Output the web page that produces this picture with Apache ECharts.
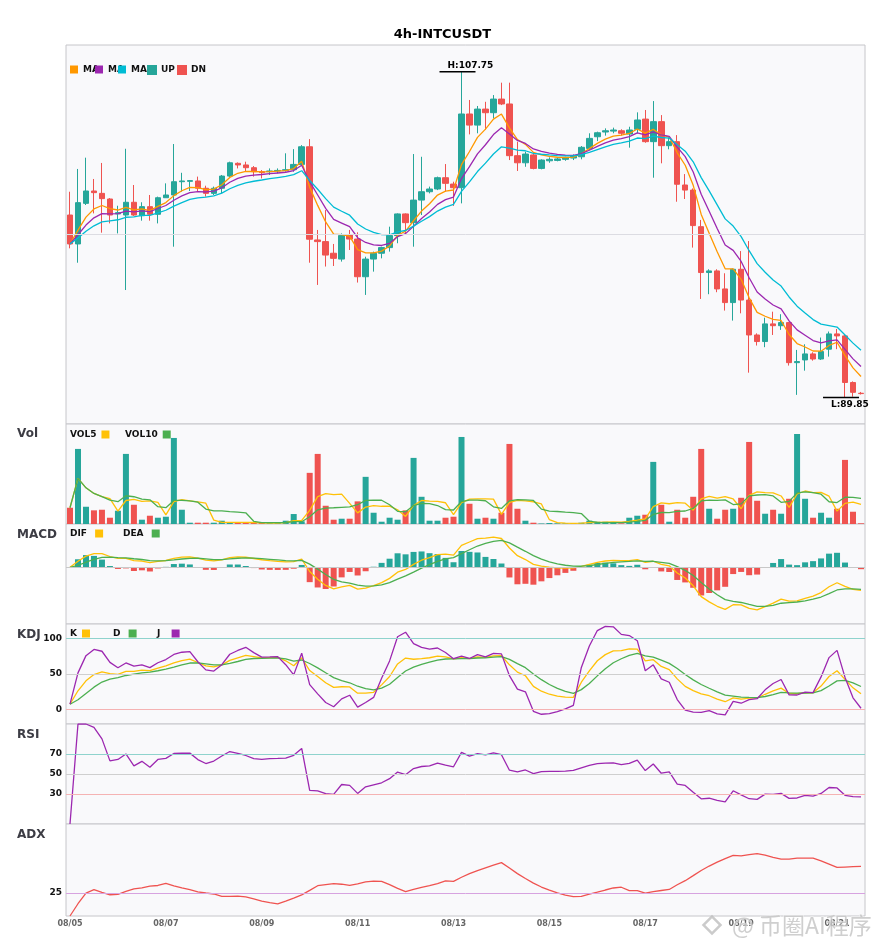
<!DOCTYPE html>
<html>
<head>
<meta charset="utf-8">
<script src="https://cdn.jsdelivr.net/npm/echarts@6/dist/echarts.min.js"></script>
<style>
  html, body { margin: 0; padding: 0; background: #fff; }
  #main { width: 885px; height: 950px; }
</style>
</head>
<body>
<div id="main"></div>
<script>
// ---- data (4h candles, 08/05 00:00 .. 08/21 12:00) ----
var days = ['08/05','08/06','08/07','08/08','08/09','08/10','08/11','08/12','08/13',
            '08/14','08/15','08/16','08/17','08/18','08/19','08/20','08/21'];
var hours = ['00:00','04:00','08:00','12:00','16:00','20:00'];

var opens = [
  99.88,98.29,100.52,101.20,101.07,100.76,99.94,99.88,100.58,99.84,
  100.34,99.92,100.83,100.98,101.71,101.73,101.75,101.35,101.07,101.35,
  102.02,102.72,102.63,102.48,102.26,102.26,102.30,102.33,102.37,102.66,
  103.63,98.51,98.42,97.78,97.46,98.78,98.56,96.49,97.46,97.78,
  98.09,98.75,99.94,99.46,100.70,101.16,101.31,101.93,101.58,101.38,
  105.43,104.82,105.70,105.50,106.25,105.98,103.14,102.75,103.18,102.44,
  102.86,102.88,102.94,103.01,103.08,103.54,104.18,104.44,104.49,104.51,
  104.33,104.59,105.15,103.91,105.01,103.69,103.91,101.53,101.25,99.24,
  96.72,96.81,95.82,95.07,96.90,95.21,93.29,92.93,93.90,93.80,
  93.97,91.77,91.92,92.25,91.97,92.51,93.35,93.24,90.68,90.09
];
var closes = [
  98.29,100.56,101.20,101.11,100.78,99.88,100.01,100.58,99.88,100.34,
  99.92,100.83,100.98,101.71,101.75,101.77,101.35,101.07,101.35,102.02,
  102.75,102.63,102.48,102.26,102.21,102.30,102.33,102.37,102.66,103.63,
  98.55,98.42,97.68,97.50,98.75,98.56,96.49,97.46,97.78,98.09,
  98.75,99.94,99.46,100.70,101.16,101.31,101.93,101.62,101.38,105.43,
  104.82,105.70,105.50,106.25,105.98,103.14,102.75,103.23,102.44,102.90,
  102.94,102.96,103.01,103.12,103.60,104.09,104.40,104.51,104.55,104.37,
  104.55,105.10,103.91,105.01,103.69,103.91,101.57,101.25,99.30,96.72,
  96.81,95.82,95.07,96.90,95.21,93.29,92.93,93.90,93.80,93.97,
  91.77,91.83,92.25,91.97,92.38,93.35,93.24,90.68,90.14,90.07
];
var lows = [
  98.05,97.26,100.43,99.97,98.91,99.42,98.87,95.76,99.83,99.57,
  99.57,99.42,100.83,98.14,101.16,101.20,101.16,100.89,100.98,101.07,
  101.95,102.44,102.26,101.99,101.89,102.08,102.17,102.26,102.26,102.63,
  97.26,96.04,97.05,97.08,97.32,97.96,96.17,95.49,96.77,97.50,
  97.87,98.33,98.87,98.14,99.88,101.07,101.25,101.16,100.38,100.52,
  104.31,104.37,104.55,105.19,105.92,102.90,102.30,102.53,102.39,102.39,
  102.75,102.83,102.86,102.90,102.94,103.45,103.94,104.24,104.37,104.24,
  103.58,104.37,103.85,101.93,102.72,103.49,100.61,100.76,98.09,95.27,
  95.53,95.64,94.63,94.08,94.48,91.22,92.71,92.62,93.29,93.57,
  91.61,90.00,91.33,91.88,91.92,92.10,92.51,89.85,89.90,90.02
];
var highs = [
  101.16,102.41,103.03,101.86,102.74,100.81,100.39,103.52,101.53,100.58,
  100.98,100.89,101.62,103.78,102.20,101.80,101.99,101.49,101.44,102.08,
  102.81,102.77,102.81,102.57,102.35,102.44,102.44,103.27,103.50,103.72,
  104.05,99.06,100.15,98.29,98.87,99.06,98.93,97.59,97.87,98.14,
  99.24,99.97,99.97,103.23,103.08,101.44,101.99,102.68,101.71,107.75,
  106.20,105.87,106.10,106.47,107.15,107.15,103.91,103.36,103.27,102.94,
  103.05,103.03,103.08,103.21,103.67,104.37,104.46,104.64,104.68,104.59,
  104.73,105.52,105.65,106.14,105.37,104.15,104.27,102.13,101.34,99.61,
  96.90,96.90,96.68,96.94,97.90,98.45,93.38,94.24,94.57,94.43,
  94.01,92.47,92.78,92.34,93.15,93.48,93.62,93.33,90.74,90.16
];
var volumes = [
  16300,75300,17300,13700,14300,6300,13300,70300,19300,4300,
  8300,6300,7300,86300,14300,1300,1300,1300,1300,3300,
  1300,1000,1000,1000,1000,1000,1000,3300,10000,2700,
  51300,70300,18300,4300,5300,5300,22700,47300,11300,2300,
  6300,4300,13700,66300,27300,3300,3300,6300,7300,87300,
  20300,5300,6300,5300,11300,80300,15300,3300,1300,500,
  1000,700,700,700,1300,3300,2300,2300,1300,700,
  6300,8300,9300,62300,19300,2300,14300,6300,27300,75300,
  15300,5300,14300,15300,26300,82300,23300,10300,14300,10300,
  25300,90300,25300,6300,11300,6300,15300,64300,12300,700
];

// ---- categories ----
var cats = [];
days.forEach(function (d) { hours.forEach(function (h) { cats.push(d + ' ' + h); }); });
cats = cats.slice(0, closes.length);
var N = closes.length;

// ---- indicators from the candles ----
function ema(arr, n) {
  var a = 2 / (n + 1), out = [], p = 0;
  for (var i = 0; i < arr.length; i++) { p = i === 0 ? arr[i] : p + a * (arr[i] - p); out.push(p); }
  return out;
}
function sma(arr, n) {
  var out = [];
  for (var i = 0; i < arr.length; i++) {
    var s = 0, c = 0;
    for (var k = Math.max(0, i - n + 1); k <= i; k++) { s += arr[k]; c++; }
    out.push(s / c);
  }
  return out;
}
var ma5 = ema(closes, 5), ma8 = ema(closes, 8), ma13 = ema(closes, 13);
var vol5 = sma(volumes, 5), vol10 = sma(volumes, 10);

// MACD 6/13/5
var eFast = ema(closes, 6), eSlow = ema(closes, 13);
var dif = closes.map(function (v, i) { return eFast[i] - eSlow[i]; });
var dea = ema(dif, 5);
var hist = dif.map(function (v, i) { return 2 * (v - dea[i]); });

// KDJ 9/3/3
var kArr = [], dArr = [], jArr = [], kv = 0, dv = 0;
for (var i = 0; i < N; i++) {
  var lo = Infinity, hi = -Infinity;
  for (var k = Math.max(0, i - 8); k <= i; k++) { lo = Math.min(lo, lows[k]); hi = Math.max(hi, highs[k]); }
  var rsv = hi === lo ? 50 : (closes[i] - lo) / (hi - lo) * 100;
  kv = i === 0 ? rsv : kv * 2 / 3 + rsv / 3;
  dv = i === 0 ? kv : dv * 2 / 3 + kv / 3;
  kArr.push(kv); dArr.push(dv); jArr.push(3 * kv - 2 * dv);
}

// RSI 14
var rsi = [0], wu = 0, wd = 0, ra = 1 / 14;
for (var i = 1; i < N; i++) {
  var ch = closes[i] - closes[i - 1];
  wu = wu * (1 - ra) + Math.max(ch, 0);
  wd = wd * (1 - ra) + Math.max(-ch, 0);
  rsi.push(wu + wd === 0 ? 50 : 100 * wu / (wu + wd));
}

// ADX 14
var adx = [0], ps = 0, ms = 0, av = 0, aa = 2 / 15;
for (var i = 1; i < N; i++) {
  var up = highs[i] - highs[i - 1], dn = lows[i - 1] - lows[i];
  var pdm = (up > dn && up > 0) ? up : 0, mdm = (dn > up && dn > 0) ? dn : 0;
  ps += aa * (pdm - ps); ms += aa * (mdm - ms);
  var dx = ps + ms === 0 ? 0 : Math.abs(ps - ms) / (ps + ms) * 100;
  av += aa * (dx - av);
  adx.push(av);
}

// ---- styling ----
var FONT = 'DejaVu Sans';
var UPC = '#26A69A', DNC = '#EF5350';
var upData = [], dnData = [];
for (var i = 0; i < N; i++) {
  var item = [opens[i], closes[i], lows[i], highs[i]];
  var blank = ['-', '-', '-', '-'];
  if (closes[i] >= opens[i]) { upData.push(item); dnData.push(blank); }
  else { upData.push(blank); dnData.push(item); }
}
var volBars = volumes.map(function (v, i) {
  return { value: v, itemStyle: { color: closes[i] >= opens[i] ? UPC : DNC } };
});
var histBars = hist.map(function (v) {
  return { value: v, itemStyle: { color: v >= 0 ? UPC : DNC } };
});
var macdLo = Math.min(Math.min.apply(null, dif), Math.min.apply(null, dea), Math.min.apply(null, hist));
var macdMin = macdLo * 1.33, macdMax = -macdMin * 43.3 / 56.7;
var priceMin = 88.40, priceMax = 109.22;

var tops = [45, 424, 524, 624, 724, 824];
var heights = [379, 100, 100, 100, 100, 92];
var grids = tops.map(function (t, i) {
  return { left: 66, right: 20, top: t, height: heights[i], show: true,
           backgroundColor: '#f9f9fb', borderColor: '#c6c6ca', borderWidth: 1 };
});
var xAxes = tops.map(function (t, i) {
  var last = i === tops.length - 1;
  return {
    type: 'category', gridIndex: i, data: cats, boundaryGap: true,
    axisLine: { show: false }, axisTick: { show: false }, splitLine: { show: false },
    axisLabel: { show: last, interval: 11, margin: 4, color: '#666', fontSize: 8, fontWeight: 'bold',
                 fontFamily: FONT, formatter: function (v) { return v.slice(0, 5); } }
  };
});
function yAx(gi, min, max, interval, shown) {
  var o = { type: 'value', gridIndex: gi, min: min, max: max, scale: true,
    axisLine: { show: false }, axisTick: { show: false }, splitLine: { show: false },
    axisLabel: { show: !!shown, margin: 4, color: '#111', fontSize: 9, fontWeight: 'bold', fontFamily: FONT,
      formatter: function (v) { return shown && shown.indexOf(Math.round(v)) >= 0 && Math.abs(v - Math.round(v)) < 1e-6 ? String(Math.round(v)) : ''; } } };
  if (interval) o.interval = interval;
  return o;
}
var yAxes = [
  yAx(0, priceMin, priceMax),
  yAx(1, 0, 100300),
  yAx(2, macdMin, macdMax),
  yAx(3, -20, 120, 10, [0, 50, 100]),
  yAx(4, 0, 100, 10, [30, 50, 70]),
  yAx(5, 0, 100, 5, [25])
];
function refLines(list) {
  return { silent: true, symbol: 'none', label: { show: false }, animation: false,
    data: list.map(function (p) { return { yAxis: p[0], lineStyle: { color: p[1], type: 'solid', width: 1 } }; }) };
}
function line(name, data, color, gi, extra) {
  var s = { name: name, type: 'line', data: data, xAxisIndex: gi, yAxisIndex: gi, showSymbol: false,
    symbol: 'none', lineStyle: { width: 1.3, color: color }, itemStyle: { color: color }, z: 3 };
  for (var k in extra) s[k] = extra[k];
  return s;
}
function lg(name, left, top, align, text) {
  return { data: [name], left: left, top: top, align: align, icon: 'rect', itemWidth: 8, itemHeight: 8,
    itemGap: 0, padding: 0, selectedMode: false, formatter: text,
    textStyle: { fontSize: 9, fontWeight: 'bold', color: '#111', fontFamily: FONT } };
}
function ttl(text, top) {
  return { text: text, left: 17, top: top, padding: 0,
           textStyle: { fontSize: 12, fontWeight: 'bold', color: '#3c3c44', fontFamily: FONT } };
}

var option = {
  animation: false,
  backgroundColor: '#ffffff',
  textStyle: { fontFamily: FONT },
  title: [
    { text: '4h-INTCUSDT', left: 'center', top: 28, padding: 0,
      textStyle: { fontSize: 13, fontWeight: 'bold', color: '#000', fontFamily: FONT } },
    ttl('Vol', 428), ttl('MACD', 529), ttl('KDJ', 629), ttl('RSI', 729), ttl('ADX', 829)
  ],
  legend: [
    lg('MA5', 70, 65, 'left', 'MA'), lg('MA8', 95, 65, 'left', 'MA'), lg('MA13', 118, 65, 'left', 'MA'),
    lg('UP', 147, 65, 'left', 'UP'), lg('DN', 177, 65, 'left', 'DN'),
    lg('VOL5', 70, 430, 'right', 'VOL5'), lg('VOL10', 125, 430, 'right', 'VOL10'),
    lg('DIF', 70, 529, 'right', 'DIF '), lg('DEA', 123, 529, 'right', 'DEA '),
    lg('K', 70, 629, 'right', 'K'), lg('D', 113, 629, 'right', 'D '), lg('J', 157, 629, 'right', 'J  ')
  ],
  grid: grids,
  xAxis: xAxes,
  yAxis: yAxes,
  series: [
    { name: 'UP', type: 'candlestick', data: upData, xAxisIndex: 0, yAxisIndex: 0, barWidth: 6,
      itemStyle: { color: UPC, color0: UPC, borderColor: UPC, borderColor0: UPC, borderWidth: 1 },
      markLine: refLines([[(priceMin + priceMax) / 2, '#dcdce2']]) },
    { name: 'DN', type: 'candlestick', data: dnData, xAxisIndex: 0, yAxisIndex: 0, barWidth: 6,
      itemStyle: { color: DNC, color0: DNC, borderColor: DNC, borderColor0: DNC, borderWidth: 1 } },
    line('MA5', ma5, '#FF9800', 0),
    line('MA8', ma8, '#9C27B0', 0),
    line('MA13', ma13, '#00BCD4', 0),

    { name: 'Vol', type: 'bar', data: volBars, xAxisIndex: 1, yAxisIndex: 1, barWidth: 6 },
    line('VOL5', vol5, '#FFC107', 1),
    line('VOL10', vol10, '#4CAF50', 1),

    { name: 'MACD', type: 'bar', data: histBars, xAxisIndex: 2, yAxisIndex: 2, barWidth: 6,
      markLine: refLines([[0, '#c8c8c8']]) },
    line('DIF', dif, '#FFC107', 2),
    line('DEA', dea, '#4CAF50', 2),

    line('K', kArr, '#FFC107', 3, { markLine: refLines([[100, '#8fd3cd'], [50, '#cfcfcf'], [0, '#f5b3b3']]) }),
    line('D', dArr, '#4CAF50', 3),
    line('J', jArr, '#9C27B0', 3),

    line('RSI', rsi, '#9C27B0', 4, { markLine: refLines([[70, '#8fd3cd'], [50, '#cfcfcf'], [30, '#f5b3b3']]) }),

    line('ADX', adx, '#EF5350', 5, { markLine: refLines([[25, '#d7a3e0']]) })
  ]
};

var chart = echarts.init(document.getElementById('main'));
chart.setOption(option);

// high / low annotations placed through the price scale
var hiIdx = highs.indexOf(Math.max.apply(null, highs));
var loIdx = lows.indexOf(Math.min.apply(null, lows));
var hp = chart.convertToPixel({ xAxisIndex: 0, yAxisIndex: 0 }, [hiIdx, highs[hiIdx]]);
var lp = chart.convertToPixel({ xAxisIndex: 0, yAxisIndex: 0 }, [loIdx, lows[loIdx]]);
chart.setOption({
  graphic: [
    { id: 'hline', type: 'line', z: 10, shape: { x1: hp[0] - 22, y1: hp[1], x2: hp[0] + 14, y2: hp[1] },
      style: { stroke: '#000', lineWidth: 1.5 } },
    { id: 'htext', type: 'text', z: 10, x: hp[0] - 14, y: hp[1] - 2,
      style: { text: 'H:' + highs[hiIdx].toFixed(2), fill: '#000', font: 'bold 9px "DejaVu Sans"', verticalAlign: 'bottom' } },
    { id: 'lline', type: 'line', z: 10, shape: { x1: lp[0] - 22, y1: lp[1], x2: lp[0] + 14, y2: lp[1] },
      style: { stroke: '#000', lineWidth: 1.5 } },
    { id: 'ltext', type: 'text', z: 10, x: lp[0] - 14, y: lp[1] + 3,
      style: { text: 'L:' + lows[loIdx].toFixed(2), fill: '#000', font: 'bold 9px "DejaVu Sans"', verticalAlign: 'top' } },
    { id: 'wmlogo', type: 'rect', z: 20, x: 712, y: 925, rotation: Math.PI / 4,
      shape: { x: -6, y: -6, width: 12, height: 12 },
      style: { fill: 'none', stroke: 'rgba(190,190,190,0.8)', lineWidth: 2.5 } },
    { id: 'wmtext', type: 'text', z: 20, x: 732, y: 925,
      style: { text: '@ 币圈AI程序', fill: 'rgba(195,195,195,0.8)', stroke: 'rgba(255,255,255,0.6)', lineWidth: 1,
               font: '23px "Noto Sans CJK SC"', verticalAlign: 'middle' } }
  ]
});
</script>
</body>
</html>
